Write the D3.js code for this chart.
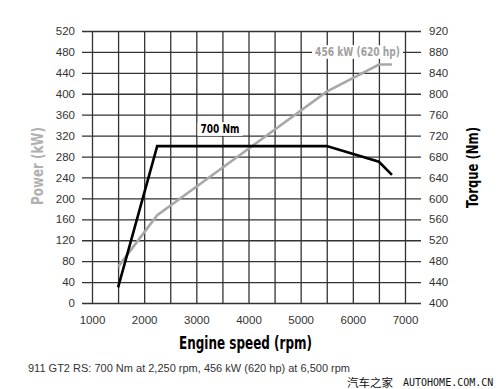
<!DOCTYPE html>
<html><head><meta charset="utf-8">
<script src="https://cdn.jsdelivr.net/npm/d3@7"></script>
<style>
body{margin:0;background:#fff;}
svg{display:block;}
</style></head>
<body>
<script>
// ---- data ----
const rpmTicks = [1000,2000,3000,4000,5000,6000,7000];
const powerTicks = [0,40,80,120,160,200,240,280,320,360,400,440,480,520];
const torqueTicks = [400,440,480,520,560,600,640,680,720,760,800,840,880,920];
const torqueRpm = [1500,2250,5500,6500,6750];
const torqueNm  = [430,700,700,670,645];
const powerRpm  = [1500,2250,4000,5500,6500,6750];
const powerKw   = [69,168,295,404,456,456];
const footer = "911 GT2 RS: 700 Nm at 2,250 rpm, 456 kW (620 hp) at 6,500 rpm";

const W=500,H=389;
const svg=d3.select("body").append("svg").attr("width",W).attr("height",H);
svg.append("rect").attr("width",W).attr("height",H).attr("fill","#fff");

const x=d3.scaleLinear().domain([1000,7000]).range([92,405]);
const yP=d3.scaleLinear().domain([0,520]).range([303,31]);
const yT=d3.scaleLinear().domain([400,920]).range([303,31]);

const gridCol="#333", font="'Liberation Sans', Arial, sans-serif";
const cond="'DejaVu Sans Condensed','DejaVu Sans', Arial, sans-serif";

// vertical grid
const vgrid=d3.range(1000,7001,500);
svg.append("g").attr("transform","translate(0,31)")
  .call(d3.axisBottom(x).tickValues(vgrid).tickSize(272).tickFormat(""))
  .call(g=>g.select(".domain").remove())
  .call(g=>g.selectAll("line").attr("stroke",gridCol).attr("stroke-width",1.3));
// horizontal grid
svg.append("g").attr("transform","translate(82,0)")
  .call(d3.axisRight(yP).tickValues(powerTicks).tickSize(339).tickFormat(""))
  .call(g=>g.select(".domain").remove())
  .call(g=>g.selectAll("line").attr("stroke",gridCol).attr("stroke-width",1.3));

// left axis labels
svg.append("g").attr("transform","translate(92,0)")
  .call(d3.axisLeft(yP).tickValues(powerTicks).tickSize(10).tickPadding(7))
  .call(g=>g.select(".domain").remove())
  .call(g=>g.selectAll("line").remove())
  .call(g=>g.selectAll("text").attr("font-family",font).attr("font-size",11.5).attr("fill","#333"));
// right axis labels
svg.append("g").attr("transform","translate(405,0)")
  .call(d3.axisRight(yT).tickValues(torqueTicks).tickSize(16).tickPadding(8))
  .call(g=>g.select(".domain").remove())
  .call(g=>g.selectAll("line").remove())
  .call(g=>g.selectAll("text").attr("font-family",font).attr("font-size",11.5).attr("fill","#333"));
// bottom axis labels
svg.append("g").attr("transform","translate(0,303)")
  .call(d3.axisBottom(x).tickValues(rpmTicks).tickSize(0).tickPadding(13).tickFormat(d3.format("d")))
  .call(g=>g.select(".domain").remove())
  .call(g=>g.selectAll("text").attr("font-family",font).attr("font-size",11.5).attr("fill","#333"));

// lines
const pData=powerRpm.map((r,i)=>[r,powerKw[i]]);
const tData=torqueRpm.map((r,i)=>[r,torqueNm[i]]);
svg.append("path").attr("d",d3.line().x(d=>x(d[0])).y(d=>yP(d[1]))(pData))
  .attr("fill","none").attr("stroke","#a8a8a8").attr("stroke-width",2.6);
svg.append("path").attr("d",d3.line().x(d=>x(d[0])).y(d=>yT(d[1]))(tData))
  .attr("fill","none").attr("stroke","#000").attr("stroke-width",2.6);

// condensed bold text helper: squeezes text horizontally to a target width
function condText(txt,cx,cy,rot,size,fill,targetW,bg){
  const g=svg.append("g").attr("transform",`translate(${cx},${cy}) rotate(${rot})`);
  const inner=g.append("g");
  const t=inner.append("text").attr("text-anchor","middle").attr("dominant-baseline","central")
    .attr("font-family",cond).attr("font-weight","bold").attr("font-size",size).attr("fill",fill).text(txt);
  const len=t.node().getComputedTextLength();
  const sx=targetW/len;
  inner.attr("transform",`scale(${sx},1)`);
  if(bg){
    const b=t.node().getBBox();
    inner.insert("rect","text").attr("x",b.x-3/sx).attr("y",b.y+1).attr("width",b.width+6/sx).attr("height",b.height-2).attr("fill","#fff");
  }
}
condText("456 kW (620 hp)",357.5,52,0,13,"#a0a0a0",85,true);
condText("700 Nm",220,129,0,13,"#000",39,true);
condText("Power (kW)",38,166,-90,15,"#b0b0b0",78,false);
condText("Torque (Nm)",473,167.5,-90,15,"#000",81,false);
condText("Engine speed (rpm)",245.5,343,0,18,"#000",133,false);

// footer
svg.append("text").attr("x",28).attr("y",368).attr("dominant-baseline","central")
  .attr("font-family",font).attr("font-size",11).attr("fill","#333").text(footer);
svg.append("text").attr("x",347).attr("y",382).attr("dominant-baseline","central")
  .attr("font-family","'Noto Sans CJK SC',sans-serif").attr("font-size",11.5).attr("fill","#111").text("汽车之家");
svg.append("text").attr("x",403).attr("y",382).attr("dominant-baseline","central")
  .attr("font-family","'DejaVu Sans Mono',monospace").attr("font-size",10).attr("fill","#111").text("AUTOHOME.COM.CN");
</script>
</body></html>
